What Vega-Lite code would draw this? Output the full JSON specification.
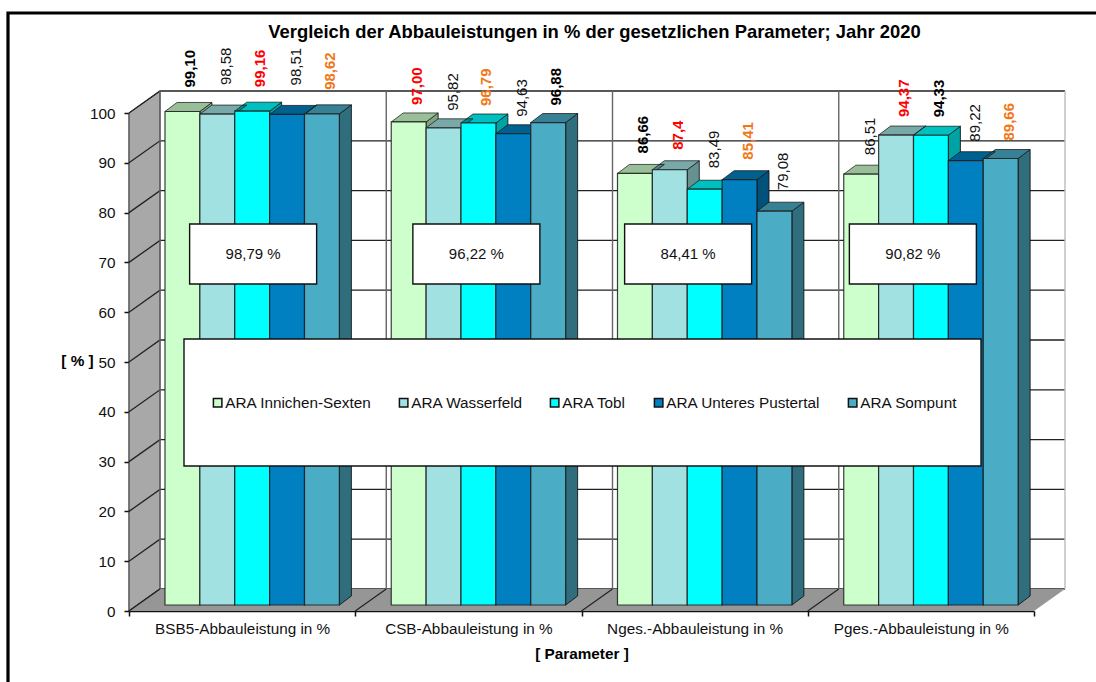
{"$schema":"https://vega.github.io/schema/vega-lite/v6.json","width":905,"height":498,"autosize":{"type":"none"},"padding":{"left":129,"top":113,"right":62,"bottom":71},"background":"white","title":{"text":"Vergleich der Abbauleistungen in % der gesetzlichen Parameter; Jahr 2020","font":"Liberation Sans","fontSize":18.4,"fontWeight":"bold","color":"#000","anchor":"middle","dx":13,"offset":-35,"frame":"group"},"config":{"view":{"stroke":null},"axis":{"labelFont":"Liberation Sans","titleFont":"Liberation Sans","labelFontSize":15.3,"titleFontSize":15.3,"titleFontWeight":"bold","labelColor":"#111","titleColor":"#000","domainColor":"#111","tickColor":"#111","domainWidth":1.5,"tickWidth":1.5,"tickSize":5,"grid":false,"zindex":1},"text":{"font":"Liberation Sans","fontSize":15}},"datasets":{"werte":[{"param":"BSB5-Abbauleistung in %","station":"ARA Innichen-Sexten","wert":99.10,"label":"99,10","art":"fett"},{"param":"BSB5-Abbauleistung in %","station":"ARA Wasserfeld","wert":98.58,"label":"98,58","art":"normal"},{"param":"BSB5-Abbauleistung in %","station":"ARA Tobl","wert":99.16,"label":"99,16","art":"rot"},{"param":"BSB5-Abbauleistung in %","station":"ARA Unteres Pustertal","wert":98.51,"label":"98,51","art":"normal"},{"param":"BSB5-Abbauleistung in %","station":"ARA Sompunt","wert":98.62,"label":"98,62","art":"orange"},{"param":"CSB-Abbauleistung in %","station":"ARA Innichen-Sexten","wert":97.00,"label":"97,00","art":"rot"},{"param":"CSB-Abbauleistung in %","station":"ARA Wasserfeld","wert":95.82,"label":"95,82","art":"normal"},{"param":"CSB-Abbauleistung in %","station":"ARA Tobl","wert":96.79,"label":"96,79","art":"orange"},{"param":"CSB-Abbauleistung in %","station":"ARA Unteres Pustertal","wert":94.63,"label":"94,63","art":"normal"},{"param":"CSB-Abbauleistung in %","station":"ARA Sompunt","wert":96.88,"label":"96,88","art":"fett"},{"param":"Nges.-Abbauleistung in %","station":"ARA Innichen-Sexten","wert":86.66,"label":"86,66","art":"fett"},{"param":"Nges.-Abbauleistung in %","station":"ARA Wasserfeld","wert":87.4,"label":"87,4","art":"rot"},{"param":"Nges.-Abbauleistung in %","station":"ARA Tobl","wert":83.49,"label":"83,49","art":"normal"},{"param":"Nges.-Abbauleistung in %","station":"ARA Unteres Pustertal","wert":85.41,"label":"85,41","art":"orange"},{"param":"Nges.-Abbauleistung in %","station":"ARA Sompunt","wert":79.08,"label":"79,08","art":"normal"},{"param":"Pges.-Abbauleistung in %","station":"ARA Innichen-Sexten","wert":86.51,"label":"86,51","art":"normal"},{"param":"Pges.-Abbauleistung in %","station":"ARA Wasserfeld","wert":94.37,"label":"94,37","art":"rot"},{"param":"Pges.-Abbauleistung in %","station":"ARA Tobl","wert":94.33,"label":"94,33","art":"fett"},{"param":"Pges.-Abbauleistung in %","station":"ARA Unteres Pustertal","wert":89.22,"label":"89,22","art":"normal"},{"param":"Pges.-Abbauleistung in %","station":"ARA Sompunt","wert":89.66,"label":"89,66","art":"orange"}],"skala":[{"y":0},{"y":10},{"y":20},{"y":30},{"y":40},{"y":50},{"y":60},{"y":70},{"y":80},{"y":90},{"y":100}],"mittel":[{"param":"BSB5-Abbauleistung in %","text":"98,79 %"},{"param":"CSB-Abbauleistung in %","text":"96,22 %"},{"param":"Nges.-Abbauleistung in %","text":"84,41 %"},{"param":"Pges.-Abbauleistung in %","text":"90,82 %"}]},"encoding":{"x":{"type":"nominal","sort":null,"title":"[ Parameter ]","scale":{"type":"band","domain":["BSB5-Abbauleistung in %","CSB-Abbauleistung in %","Nges.-Abbauleistung in %","Pges.-Abbauleistung in %"],"paddingInner":0,"paddingOuter":0},"axis":{"labelAngle":0,"tickBand":"extent","titleY":35,"labelPadding":5,"labelFlush":false}},"y":{"type":"quantitative","title":"[ % ]","scale":{"domain":[0,100],"nice":false},"axis":{"values":[0,10,20,30,40,50,60,70,80,90,100],"titleAngle":0,"titleX":-52,"titleY":255,"titleAlign":"center","labelPadding":9}}},"layer":[{"data":{"name":"mittel"},"transform":[{"filter":"datum.param == 'BSB5-Abbauleistung in %'"}],"mark":{"type":"point","filled":true,"fill":"#a8a8a8","stroke":"#333","strokeWidth":1,"opacity":1,"size":4,"shape":"M0,0 L31,-22 L31,-520 L0,-498 Z"},"encoding":{"x":{"field":"param","bandPosition":0},"y":{"datum":0}}},{"data":{"name":"skala"},"mark":{"type":"point","filled":false,"stroke":"#222","strokeWidth":1.3,"opacity":1,"size":4,"shape":"M0,0 L31,-22 L936,-22"},"encoding":{"x":{"datum":"BSB5-Abbauleistung in %","bandPosition":0},"y":{"field":"y"}}},{"data":{"name":"mittel"},"mark":{"type":"point","filled":false,"stroke":"#666","strokeWidth":1.4,"opacity":1,"size":4,"shape":"M31,-22 L31,-520"},"encoding":{"x":{"field":"param","bandPosition":0},"y":{"datum":0}}},{"data":{"name":"mittel"},"transform":[{"filter":"datum.param == 'BSB5-Abbauleistung in %'"}],"mark":{"type":"point","filled":false,"stroke":"#bbb","strokeWidth":1.4,"opacity":1,"size":4,"shape":"M936,-22 L936,-520"},"encoding":{"x":{"field":"param","bandPosition":0},"y":{"datum":0}}},{"data":{"name":"mittel"},"transform":[{"filter":"datum.param == 'BSB5-Abbauleistung in %'"}],"mark":{"type":"point","filled":true,"fill":"#969696","opacity":1,"size":4,"shape":"M0,0 L31,-22 L936,-22 L905,0 Z"},"encoding":{"x":{"field":"param","bandPosition":0},"y":{"datum":0}}},{"data":{"name":"mittel"},"mark":{"type":"point","filled":false,"stroke":"#222","strokeWidth":1.2,"opacity":1,"size":4,"shape":"M0,0 L31,-22"},"encoding":{"x":{"field":"param","bandPosition":0},"y":{"datum":0}}},{"data":{"name":"werte"},"mark":{"type":"point","filled":true,"opacity":1,"size":4,"shape":{"expr":"'M17.45,-6 L29.45,-15 L29.45,' + (datum.wert*4.98-15) + ' L17.45,' + (datum.wert*4.98-6) + ' Z'"}},"encoding":{"x":{"field":"param"},"y":{"field":"wert"},"xOffset":{"field":"station","type":"nominal","sort":null,"scale":{"type":"band","domain":["ARA Innichen-Sexten","ARA Wasserfeld","ARA Tobl","ARA Unteres Pustertal","ARA Sompunt"],"paddingInner":0,"paddingOuter":0.7436,"align":0.694}},"color":{"field":"station","type":"nominal","sort":null}}},{"data":{"name":"werte"},"mark":{"type":"point","filled":true,"fill":"#000","fillOpacity":0.36,"stroke":"#111","strokeWidth":1,"strokeOpacity":0.85,"opacity":1,"size":4,"shape":{"expr":"'M17.45,-6 L29.45,-15 L29.45,' + (datum.wert*4.98-15) + ' L17.45,' + (datum.wert*4.98-6) + ' Z'"}},"encoding":{"x":{"field":"param"},"y":{"field":"wert"},"xOffset":{"field":"station","type":"nominal","sort":null}}},{"data":{"name":"werte"},"mark":{"type":"point","filled":true,"opacity":1,"size":4,"shape":"M-17.45,-6 L-5.45,-15 L29.45,-15 L17.45,-6 Z"},"encoding":{"x":{"field":"param"},"y":{"field":"wert"},"xOffset":{"field":"station","type":"nominal","sort":null},"color":{"field":"station","type":"nominal","sort":null}}},{"data":{"name":"werte"},"mark":{"type":"point","filled":true,"fill":"#000","fillOpacity":0.25,"stroke":"#111","strokeWidth":1,"strokeOpacity":0.7,"opacity":1,"size":4,"shape":"M-17.45,-6 L-5.45,-15 L29.45,-15 L17.45,-6 Z"},"encoding":{"x":{"field":"param"},"y":{"field":"wert"},"xOffset":{"field":"station","type":"nominal","sort":null}}},{"data":{"name":"werte"},"mark":{"type":"bar","yOffset":-6,"stroke":"#1c1c1c","strokeWidth":1.2,"strokeOpacity":0.85},"encoding":{"x":{"field":"param"},"y":{"field":"wert"},"xOffset":{"field":"station","type":"nominal","sort":null},"color":{"field":"station","type":"nominal","sort":null,"scale":{"domain":["ARA Innichen-Sexten","ARA Wasserfeld","ARA Tobl","ARA Unteres Pustertal","ARA Sompunt"],"range":["#CCFFCC","#A1E1E1","#00FFFF","#0080C0","#4BACC6"]},"legend":{"title":null,"orient":"none","legendX":81,"legendY":282,"direction":"horizontal","columns":5,"gridAlign":"none","columnPadding":24,"padding":0,"symbolType":"square","symbolSize":72,"symbolStrokeColor":"#111","symbolStrokeWidth":1.5,"labelFont":"Liberation Sans","labelFontSize":15.3,"labelColor":"#111","labelOffset":0,"offset":0,"zindex":2}}}},{"data":{"name":"mittel"},"mark":{"type":"point","filled":true,"fill":"#fff","stroke":"#111","strokeWidth":1.4,"opacity":1,"size":4,"shape":"M-63.5,-30 L63.5,-30 L63.5,30 L-63.5,30 Z","xOffset":{"expr":"{'BSB5-Abbauleistung in %':11,'CSB-Abbauleistung in %':8,'Nges.-Abbauleistung in %':-6.5,'Pges.-Abbauleistung in %':-8}[datum.param]"}},"encoding":{"x":{"field":"param"},"y":{"datum":71.7}}},{"data":{"name":"mittel"},"mark":{"type":"text","fill":"#111","align":"center","baseline":"middle","xOffset":{"expr":"{'BSB5-Abbauleistung in %':11,'CSB-Abbauleistung in %':8,'Nges.-Abbauleistung in %':-6.5,'Pges.-Abbauleistung in %':-8}[datum.param]"}},"encoding":{"x":{"field":"param"},"y":{"datum":71.7},"text":{"field":"text"}}},{"data":{"name":"mittel"},"transform":[{"filter":"datum.param == 'BSB5-Abbauleistung in %'"}],"mark":{"type":"point","filled":true,"fill":"#fff","stroke":"#111","strokeWidth":1.4,"opacity":1,"size":4,"shape":"M55,-272 L852,-272 L852,-145 L55,-145 Z"},"encoding":{"x":{"field":"param","bandPosition":0},"y":{"datum":0}}},{"data":{"name":"mittel"},"transform":[{"filter":"datum.param == 'BSB5-Abbauleistung in %'"}],"mark":{"type":"point","filled":false,"stroke":"#000","strokeWidth":3.2,"opacity":1,"size":4,"shape":"M-121,80 L-121,-598 L1000,-598"},"encoding":{"x":{"field":"param","bandPosition":0},"y":{"datum":0}}},{"data":{"name":"werte"},"transform":[{"filter":"datum.art == 'normal'"}],"mark":{"type":"text","angle":270,"align":"left","baseline":"middle","dy":9,"fill":"#111","dx":{"expr":"{'BSB5-Abbauleistung in %':35,'CSB-Abbauleistung in %':23,'Nges.-Abbauleistung in %':27,'Pges.-Abbauleistung in %':25}[datum.param]"}},"encoding":{"x":{"field":"param"},"y":{"field":"wert"},"xOffset":{"field":"station","type":"nominal","sort":null},"text":{"field":"label"}}},{"data":{"name":"werte"},"transform":[{"filter":"datum.art != 'normal'"}],"mark":{"type":"text","angle":270,"align":"left","baseline":"middle","dy":8,"fontWeight":"bold","dx":{"expr":"{'BSB5-Abbauleistung in %':30,'CSB-Abbauleistung in %':23,'Nges.-Abbauleistung in %':26,'Pges.-Abbauleistung in %':24}[datum.param]"}},"encoding":{"x":{"field":"param"},"y":{"field":"wert"},"xOffset":{"field":"station","type":"nominal","sort":null},"text":{"field":"label"},"fill":{"field":"art","type":"nominal","legend":null,"scale":{"domain":["fett","rot","orange"],"range":["#000000","#FF0000","#F07818"]}}}}]}
